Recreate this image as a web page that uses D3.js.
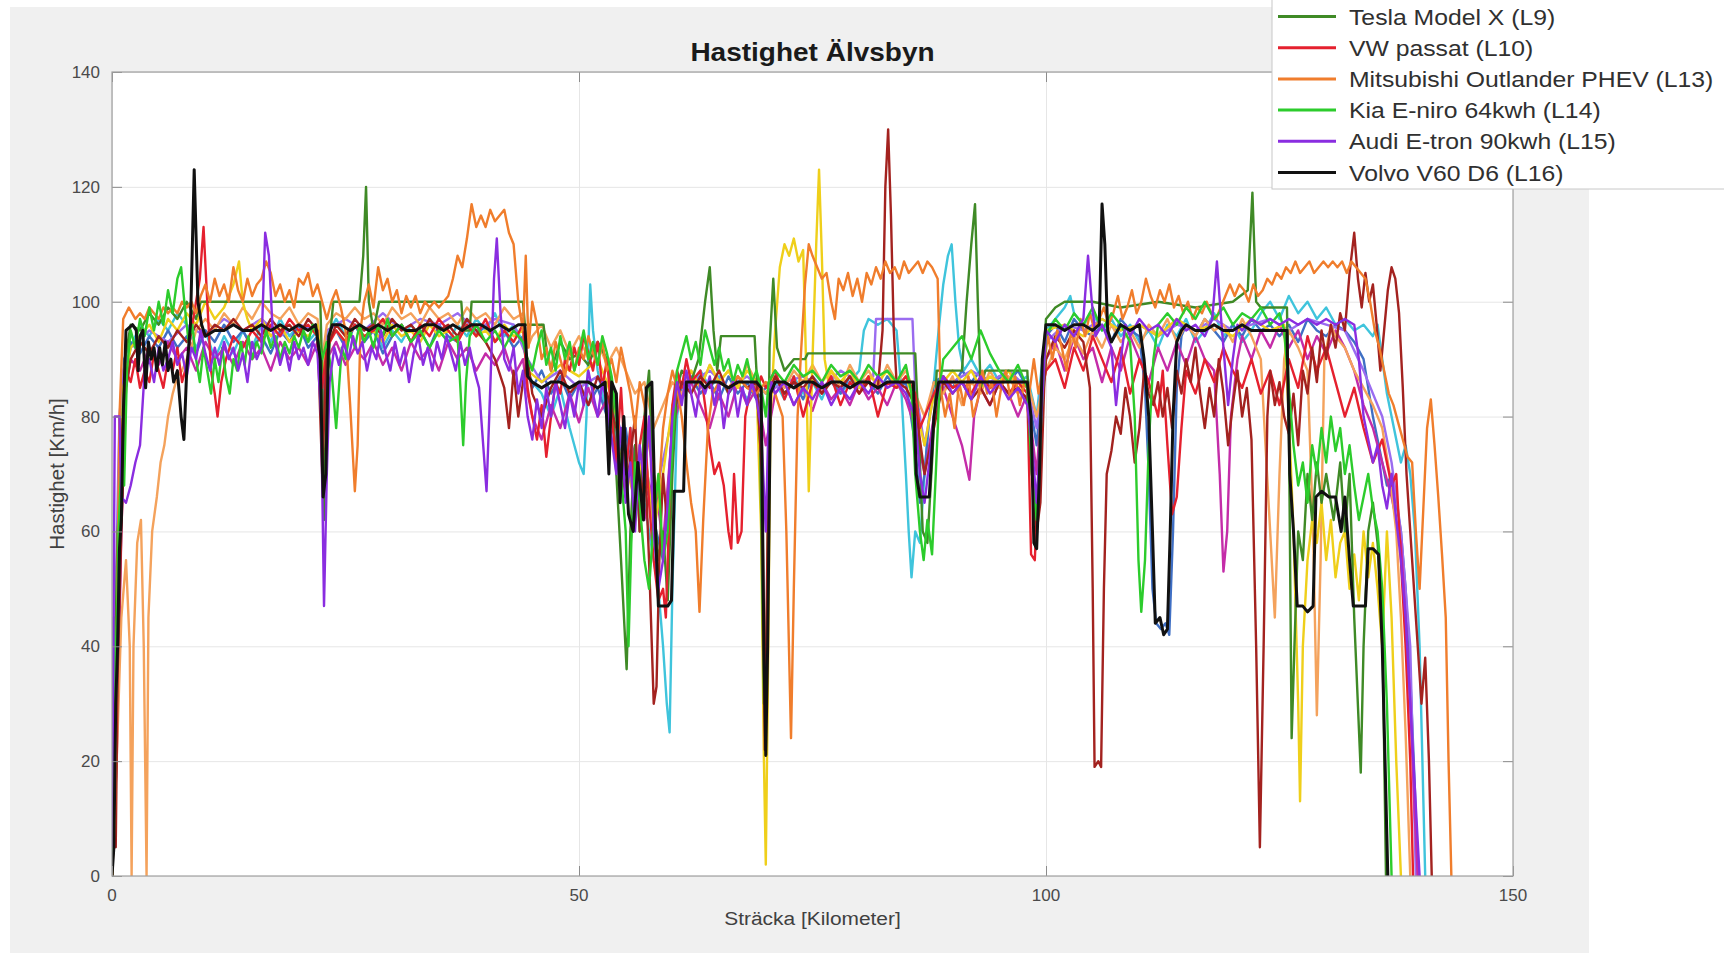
<!DOCTYPE html>
<html>
<head>
<meta charset="utf-8">
<script src="https://cdn.jsdelivr.net/npm/d3@7"></script>
<style>
body { margin: 0; background: #fff; }
svg { display: block; font-family: "Liberation Sans", Arial, Helvetica, sans-serif; }
</style>
</head>
<body>
<svg id="chart" width="1724" height="953"></svg>
<script>
// speed (km/h) against distance (km)
const volvoL16 = [[0,0],[0.2,5],[0.4,30],[0.6,40],[0.8,57],[1.0,62],[1.2,80],[1.5,95],[2.2,96],[2.6,95],[2.8,88],[3.0,94],[3.3,95],[3.6,85],[3.9,93],[4.2,90],[4.5,92],[4.8,88],[5.1,92],[5.4,89],[5.7,93],[6.0,88],[6.3,90],[6.6,86],[7.0,88],[7.4,80],[7.7,76],[8.0,88],[8.4,96],[8.8,123],[9.2,100],[9.6,96],[10,94],[11,95],[12,95],[13,96],[14,95],[15,95],[16,96],[17,95],[18,96],[19,95],[20,96],[21,95],[21.8,96],[22.3,90],[22.6,66],[22.9,70],[23.2,94],[23.6,96],[24.5,96],[25.5,95],[26.5,96],[27.5,95],[28.5,96],[29.5,95],[30.5,96],[31.5,95],[32.5,95],[33.5,96],[34.5,96],[35.5,95],[36.5,96],[37.5,95],[38.5,96],[39.5,96],[40.5,95],[41.5,96],[42.5,95],[43.5,96],[44.2,96],[44.5,87],[45,86],[46,85],[47,86],[48,86],[49,85],[50,86],[51,86],[52,85],[52.8,86],[53.2,70],[53.5,86],[54,84],[54.4,65],[54.8,80],[55.3,63],[55.8,60],[56.3,72],[56.9,62],[57.2,85],[57.8,86],[58.2,60],[58.5,47],[59.5,47],[59.9,48],[60.2,67],[61.2,67],[61.5,86],[62,86],[63,86],[63.5,85],[64,86],[65,86],[66,85],[67,86],[68,86],[69,86],[69.5,85],[69.8,40],[70,21],[70.2,40],[70.5,84],[71,86],[72,86],[73,85],[74,86],[75,86],[76,85],[77,86],[78,86],[79,85],[80,86],[81,86],[82,85],[83,86],[84,86],[85,86],[85.8,86],[86.1,70],[86.5,66],[87.5,66],[88,80],[88.5,86],[89,86],[90,86],[91,86],[92,86],[93,86],[94,86],[95,86],[96,86],[97,86],[98,86],[98.4,80],[98.7,58],[99,57],[99.3,70],[99.6,90],[100,96],[101,96],[102,95],[103,96],[104,96],[105,95],[105.7,96],[106,117],[106.3,110],[106.6,95],[107,93],[108,96],[109,95],[110,96],[110.5,90],[111,80],[111.4,60],[111.7,44],[112.2,45],[112.6,42],[113,43],[113.3,60],[113.6,80],[114,93],[114.5,95],[115,96],[116,95],[117,95],[118,96],[119,95],[120,95],[121,96],[122,95],[123,95],[124,95],[125,95],[125.8,95],[126.1,70],[126.5,60],[126.9,47],[127.5,47],[128,46],[128.6,47],[128.9,66],[129.5,67],[130.3,66],[131,66],[131.6,60],[132,66],[132.5,55],[132.9,47],[133.5,47],[134.2,47],[134.5,57],[135,57],[135.6,56],[136,40],[136.3,20],[136.6,0]];

const teslaL9 = [[0,0],[0.3,35],[0.6,60],[1.0,70],[1.4,90],[2,96],[3,95],[4,98],[5,96],[6,99],[7,97],[8,100],[9,97],[9.5,100],[12,100],[16,100],[20,100],[22.3,100],[22.5,88],[22.7,62],[23,85],[23.4,95],[23.7,100],[26.5,100],[26.9,108],[27.2,120],[27.5,100],[28,95],[28.6,100],[37.4,100],[37.6,95],[38.3,95],[38.5,100],[44,100],[44.2,96],[46.2,96],[46.5,92],[47,88],[48,93],[49,90],[50,91],[51,89],[52,93],[53,90],[53.5,85],[54,70],[54.5,55],[55.1,36],[55.5,60],[56,75],[56.5,60],[57,80],[57.5,88],[58,65],[58.5,55],[59,60],[59.5,48],[60,70],[60.5,85],[61,88],[62,86],[62.8,90],[63.5,100],[64,106],[64.4,95],[64.8,88],[65.2,94],[68.8,94],[69,88],[69.4,75],[69.8,30],[70.1,40],[70.4,92],[70.8,104],[71.2,92],[72,88],[73,90],[74.2,90],[74.5,91],[86,91],[86.3,80],[86.8,60],[87.3,58],[87.8,72],[88.3,88],[91,88],[91.5,100],[92,110],[92.4,117],[92.7,100],[93,85],[93.5,88],[98,88],[98.5,70],[99,60],[99.5,85],[100,97],[101,99],[102,100],[105,100],[108,99],[112,100],[116,99],[120,100],[121.6,102],[122.1,119],[122.5,100],[123,99],[125.8,99],[126,80],[126.3,24],[126.6,40],[127,60],[127.5,55],[128,70],[128.5,62],[129,72],[129.5,65],[130,70],[130.8,62],[131.5,72],[132,60],[132.5,70],[133,45],[133.7,18],[134,40],[134.5,60],[135,65],[135.5,58],[136,45],[136.4,0]];

const vwL10 = [[0,0],[0.3,20],[0.6,40],[1,75],[1.5,88],[2,86],[2.5,90],[3,85],[3.5,88],[4,86],[4.5,91],[5,88],[5.5,85],[6,90],[6.5,88],[7,92],[7.5,86],[8,89],[8.5,95],[9,100],[9.4,104],[9.8,113],[10.2,100],[10.6,88],[11,84],[11.3,80],[11.7,86],[12.2,90],[13,94],[14,92],[15,95],[16,93],[17,96],[18,94],[19,97],[20,95],[21,96],[22,94],[22.5,85],[23,92],[24,95],[25,93],[26,96],[27,94],[28,95],[29,97],[30,94],[31,96],[32,93],[33,96],[34,94],[35,97],[36,95],[37,93],[38,96],[39,94],[40,97],[41,93],[42,95],[43,93],[44,96],[44.5,85],[45,80],[45.5,76],[46,82],[46.5,73],[47,80],[47.5,86],[48,84],[48.5,90],[49,88],[49.5,92],[50,89],[50.5,94],[51,91],[51.5,88],[52,93],[52.5,85],[53,90],[53.5,80],[54,72],[54.5,85],[55,70],[55.5,78],[56,62],[56.5,75],[57,80],[57.5,65],[58,55],[58.5,48],[59,50],[59.3,45],[59.6,60],[60,82],[60.5,88],[61,85],[61.5,90],[62,86],[63,88],[63.5,82],[64,75],[64.5,70],[65,72],[65.5,68],[66,60],[66.3,57],[66.6,70],[67,58],[67.4,60],[67.8,80],[68.5,86],[69,84],[69.5,87],[70,85],[71,88],[72,83],[73,87],[74,80],[75,86],[76,84],[77,87],[78,82],[79,86],[80,84],[81,87],[82,80],[83,86],[84,85],[85,87],[86,84],[86.5,78],[87,80],[88,84],[89,87],[90,85],[91,86],[92,84],[93,87],[94,85],[95,86],[96,84],[97,86],[98,84],[98.4,56],[98.8,55],[99.2,70],[99.6,85],[100,88],[101,90],[102,85],[103,92],[104,88],[105,94],[106,90],[107,86],[108,92],[109,84],[110,90],[111,86],[112,80],[112.5,88],[113,75],[113.5,63],[114,66],[114.5,78],[115,88],[116,84],[117,90],[118,86],[119,92],[120,88],[121,85],[122,90],[123,84],[124,88],[125,82],[126,90],[127,85],[128,94],[129,88],[130,92],[131,86],[132,80],[133,85],[134,78],[135,72],[136,76],[137,68],[137.5,70],[138,55],[138.5,40],[139,20],[139.3,0]];

const mitsuL13 = [[0,0],[0.3,10],[0.5,40],[0.8,80],[1.2,97],[1.8,99],[2.5,97],[3,98],[3.5,97],[4,99],[4.5,98],[5,97],[5.5,99],[6,98],[6.5,99],[7,98],[7.5,100],[8,99],[8.5,100],[9,98],[9.5,101],[10,103],[10.5,100],[11,104],[11.5,101],[12,103],[12.5,100],[13,106],[13.5,102],[14,100],[14.5,104],[15,101],[15.5,103],[16,104],[16.5,107],[17,105],[17.5,101],[18,103],[18.5,100],[19,102],[19.5,99],[20,104],[20.5,103],[21,105],[21.5,101],[22,103],[22.5,100],[23,97],[23.5,100],[24,102],[24.5,99],[25,95],[25.5,82],[26,67],[26.3,75],[26.6,95],[27,100],[27.5,103],[28,99],[28.5,106],[29,102],[29.5,104],[30,100],[30.5,102],[31,98],[31.5,101],[32,99],[32.5,101],[33,98],[33.5,100],[34,99],[34.5,100],[35,99],[35.5,100],[36,101],[36.5,104],[37,108],[37.5,106],[38,111],[38.5,117],[39,113],[39.5,115],[40,113],[40.5,116],[41,114],[41.5,115],[42,116],[42.5,112],[43,110],[43.5,100],[44,95],[44.3,108],[44.6,92],[45,100],[45.5,96],[46,90],[46.5,92],[47,88],[47.5,93],[48,90],[48.5,87],[49,92],[49.5,88],[50,92],[50.5,90],[51,94],[51.5,91],[52,89],[52.5,93],[53,88],[53.5,90],[54,86],[54.5,92],[55,88],[55.5,84],[56,78],[56.5,86],[57,82],[57.5,75],[58,70],[58.5,66],[59,78],[59.5,84],[60,88],[60.5,85],[61,80],[61.5,72],[62,65],[62.5,60],[62.9,46],[63.3,62],[63.8,78],[64.3,84],[65,86],[66,85],[67,87],[68,85],[69,84],[70,86],[71,84],[71.8,80],[72.2,60],[72.7,24],[73,50],[73.4,80],[73.8,92],[74.2,103],[74.6,110],[75,108],[75.5,106],[76,104],[76.5,105],[77,100],[77.4,97],[77.8,104],[78.3,102],[78.8,105],[79.3,101],[79.8,104],[80.3,100],[80.8,105],[81.3,103],[81.8,106],[82.3,104],[82.8,107],[83.3,105],[83.8,106],[84.3,104],[84.8,107],[85.3,105],[85.8,106],[86.3,107],[86.8,105],[87.3,107],[87.8,106],[88.4,104],[88.7,85],[89.2,80],[89.7,84],[90.2,78],[90.7,86],[91.2,82],[91.7,87],[92.2,80],[92.7,83],[93.2,88],[93.7,84],[94.2,86],[94.7,80],[95.2,85],[95.7,88],[96.2,83],[96.7,87],[97.2,82],[97.7,86],[98.2,84],[98.7,90],[99.2,84],[99.7,88],[100.2,94],[100.7,90],[101.2,95],[101.7,92],[102.2,88],[102.7,95],[103.2,92],[103.7,97],[104.2,94],[104.7,98],[105.2,95],[105.7,97],[106.2,99],[106.7,96],[107.2,98],[107.7,101],[108.2,97],[108.7,99],[109.2,102],[109.7,98],[110.2,100],[110.7,104],[111.2,101],[111.7,99],[112.2,102],[112.7,100],[113.2,103],[113.7,99],[114.2,101],[114.7,98],[115.2,100],[115.7,97],[116.2,99],[116.7,98],[117.2,100],[117.7,98],[118.2,97],[118.7,99],[119.2,101],[119.7,103],[120.2,101],[120.7,103],[121.2,102],[121.7,100],[122.2,103],[122.7,101],[123.2,102],[123.7,104],[124.2,103],[124.7,105],[125.2,104],[125.7,106],[126.2,105],[126.7,107],[127.2,105],[127.7,106],[128.2,107],[128.7,105],[129.2,106],[129.7,107],[130.2,106],[130.7,107],[131.2,106],[131.7,107],[132.2,105],[132.7,107],[133.2,106],[133.7,105],[134.2,104],[134.7,100],[135.2,95],[135.7,92],[136.2,88],[136.7,84],[137.2,82],[137.7,79],[138.2,76],[138.7,73],[139.2,72],[139.6,60],[140,50],[140.4,64],[140.8,78],[141.2,83],[141.6,75],[142,66],[142.4,56],[142.8,45],[143.1,20],[143.4,0]];

const kiaL14 = [[0,0],[0.2,45],[0.4,30],[0.7,60],[1,72],[1.3,68],[1.6,88],[2,95],[2.5,92],[3,97],[3.5,94],[4,99],[4.5,95],[5,100],[5.5,96],[6,102],[6.5,98],[7,104],[7.4,106],[7.8,99],[8.2,93],[8.6,96],[9,90],[9.4,86],[9.8,92],[10.2,88],[10.6,84],[11,90],[11.4,86],[11.8,92],[12.2,87],[12.6,84],[13,90],[13.4,88],[13.8,93],[14.2,89],[14.6,94],[15,90],[15.5,93],[16,91],[16.5,95],[17,92],[17.5,94],[18,90],[18.5,93],[19,91],[19.5,94],[20,92],[20.5,95],[21,93],[21.5,96],[22,94],[22.5,90],[23,93],[23.5,88],[24,78],[24.3,85],[24.6,92],[25,90],[25.5,95],[26,92],[26.5,96],[27,93],[27.5,95],[28,92],[28.5,96],[29,94],[29.5,97],[30,94],[31,96],[32,93],[33,95],[34,92],[35,95],[36,93],[37,94],[37.3,85],[37.6,75],[37.9,86],[38.3,94],[39,96],[40,93],[41,95],[42,92],[43,95],[44,93],[44.5,90],[45,88],[45.5,92],[46,95],[46.5,89],[47,92],[47.5,88],[48,94],[48.5,90],[49,93],[49.5,88],[50,91],[50.5,95],[51,90],[51.5,93],[52,89],[52.5,94],[53,91],[53.5,87],[54,80],[54.5,70],[55,60],[55.3,40],[55.6,58],[56,72],[56.5,65],[57,55],[57.5,50],[58,62],[58.5,70],[59,55],[59.5,60],[60,75],[60.5,88],[61,91],[61.5,94],[62,90],[62.5,93],[63,89],[63.5,95],[64,92],[64.5,89],[65,92],[65.5,88],[66,90],[66.5,86],[67,89],[67.5,87],[68,90],[68.5,86],[69,88],[69.5,85],[70,80],[70.3,86],[71,88],[72,86],[73,89],[74,87],[75,88],[76,86],[77,89],[78,87],[79,88],[80,86],[81,89],[82,87],[83,88],[84,86],[85,89],[85.6,84],[86,70],[86.5,60],[86.9,55],[87.3,62],[87.8,56],[88.2,70],[88.6,85],[89,90],[90,92],[91,94],[92,90],[93,95],[94,91],[95,88],[96,86],[97,89],[98,85],[98.5,70],[99,62],[99.5,80],[100,94],[101,97],[102,95],[103,98],[104,96],[105,99],[106,95],[107,98],[108,96],[109,93],[109.5,80],[109.9,55],[110.2,46],[110.6,55],[111,75],[111.5,90],[112,96],[113,98],[114,96],[115,99],[116,97],[117,100],[118,97],[119,99],[120,96],[121,98],[122,97],[123,99],[124,96],[125,98],[125.5,95],[126,85],[126.5,75],[127,68],[127.5,72],[128,65],[128.5,75],[129,70],[129.5,78],[130,72],[130.5,80],[131,74],[131.5,78],[132,70],[132.5,75],[133,68],[133.5,62],[134,66],[134.5,70],[135,64],[135.5,60],[136,50],[136.5,30],[137,0]];

const audiL15 = [[0,5],[0.15,40],[0.3,80],[0.8,80],[1,66],[1.5,65],[2,68],[2.5,72],[3,75],[3.5,88],[4,90],[4.5,86],[5,92],[5.5,88],[6,90],[6.5,93],[7,89],[7.5,91],[8,87],[8.5,92],[9,90],[9.5,95],[10,91],[10.5,88],[11,92],[11.5,89],[12,93],[12.5,90],[13,92],[13.5,88],[14,91],[14.5,86],[15,93],[15.5,90],[16,92],[16.4,112],[16.8,108],[17.2,95],[17.6,92],[18,89],[18.5,92],[19,88],[19.5,93],[20,90],[20.5,92],[21,89],[21.5,93],[22,91],[22.4,80],[22.7,47],[23,70],[23.3,86],[23.8,92],[24.3,89],[24.8,93],[25.3,90],[25.8,94],[26.3,91],[26.8,93],[27.3,88],[27.8,92],[28.3,90],[28.8,95],[29.3,91],[29.8,88],[30.3,93],[30.8,89],[31.3,92],[31.8,86],[32.3,91],[32.8,94],[33.3,89],[33.8,92],[34.3,88],[34.8,93],[35.3,90],[35.8,94],[36.3,91],[36.8,88],[37.3,93],[37.8,89],[38.3,92],[38.8,88],[39.3,85],[39.7,76],[40.1,67],[40.5,85],[40.9,104],[41.2,111],[41.6,98],[42,90],[42.5,88],[43,92],[43.5,84],[44,88],[44.5,80],[45,76],[45.5,83],[46,78],[46.5,85],[47,80],[47.5,86],[48,82],[48.5,78],[49,84],[49.5,80],[50,86],[50.5,82],[51,88],[51.5,84],[52,80],[52.5,86],[53,82],[53.5,76],[54,70],[54.5,78],[55,65],[55.5,72],[56,60],[56.5,75],[57,68],[57.5,80],[58,60],[58.5,50],[59,55],[59.5,65],[60,80],[60.5,86],[61,82],[61.5,88],[62,84],[62.5,80],[63,86],[63.5,84],[64,87],[64.5,82],[65,86],[65.5,78],[66,84],[66.5,86],[67,80],[67.5,85],[68,82],[68.5,86],[69,83],[69.5,78],[70,60],[70.3,80],[70.6,86],[71,84],[72,86],[73,82],[74,85],[75,83],[76,86],[77,82],[78,85],[79,83],[80,86],[81,84],[82,87],[83,85],[84,86],[85,84],[86,80],[86.5,70],[87,65],[87.5,72],[88,80],[88.5,85],[89,87],[90,84],[91,86],[92,83],[93,87],[94,84],[95,86],[96,83],[97,85],[98,82],[98.5,75],[99,65],[99.5,80],[100,95],[101,93],[102,96],[103,94],[104,97],[104.5,108],[104.9,100],[105.3,94],[106,96],[107,92],[107.5,82],[108,90],[108.5,96],[109,94],[110,97],[111,95],[112,96],[113,94],[114,97],[115,95],[116,96],[117,94],[117.8,97],[118.3,107],[118.7,98],[119,92],[119.5,82],[120,90],[120.5,96],[121,95],[122,97],[123,96],[124,97],[125,96],[126,97],[127,96],[128,97],[129,96],[130,97],[131,96],[132,97],[133,96],[133.5,90],[134,80],[134.5,76],[135,72],[135.5,75],[136,68],[136.5,64],[137,70],[137.5,62],[138,55],[138.5,45],[139,30],[139.5,15],[140,0]];

// the other runs, whose legend rows sit above the visible part of the legend
const runCyan = [[0,0],[0.3,25],[0.6,55],[1,75],[1.5,88],[2,92],[3,96],[4,94],[5,97],[6,95],[7,98],[8,96],[9,92],[10,95],[11,90],[12,94],[13,91],[14,95],[15,92],[16,96],[17,93],[18,97],[19,94],[20,96],[21,93],[22,95],[22.5,88],[23,94],[24,97],[25,94],[26,96],[27,93],[28,96],[29,92],[30,95],[31,93],[32,96],[33,94],[34,97],[35,95],[36,93],[37,96],[38,94],[39,97],[40,95],[41,98],[42,94],[43,96],[44,93],[44.5,88],[45,86],[46,84],[47,80],[48,85],[49,78],[50,72],[50.5,70],[50.8,80],[51.2,103],[51.5,95],[52,88],[52.5,84],[53,80],[53.5,85],[54,75],[55,70],[55.5,78],[56,68],[56.5,72],[57,65],[57.5,60],[58,55],[58.5,50],[59,40],[59.4,30],[59.7,25],[60,50],[60.5,80],[61,86],[62,84],[63,88],[64,85],[65,87],[66,84],[67,86],[68,83],[69,86],[70,84],[71,86],[72,83],[73,87],[74,84],[75,86],[76,83],[77,87],[78,84],[79,86],[80,88],[80.5,95],[81,97],[82,96],[83,97],[84,95],[84.5,85],[85,70],[85.3,60],[85.6,52],[86,60],[86.5,58],[87,70],[87.5,80],[88,86],[88.5,95],[89,103],[89.5,108],[89.9,110],[90.3,100],[90.7,92],[91.2,88],[92,90],[93,87],[94,89],[95,86],[96,88],[97,86],[98,87],[99,80],[99.5,88],[100,95],[101,97],[102,99],[102.6,101],[103,98],[104,96],[105,98],[106,95],[107,97],[108,94],[109,96],[110,93],[111,95],[112,92],[113,96],[114,94],[115,97],[116,93],[117,95],[118,98],[119,94],[120,96],[121,93],[122,95],[123,98],[124,100],[125,97],[126,101],[127,98],[128,100],[129,97],[130,99],[131,96],[132,97],[133,95],[134,96],[135,94],[135.5,96],[136,90],[136.5,84],[137,80],[137.5,76],[138,72],[138.5,75],[139,70],[139.5,60],[140,40],[140.3,20],[140.6,0]];

const runBlue = [[0,0],[0.4,30],[0.8,70],[1.3,90],[2,93],[3,91],[4,94],[5,92],[6,95],[7,92],[8,94],[9,91],[10,95],[11,93],[12,96],[13,93],[14,95],[15,92],[16,94],[17,91],[18,95],[19,93],[20,96],[21,92],[22,94],[22.5,85],[23,93],[24,95],[25,92],[26,96],[27,93],[28,95],[29,91],[30,94],[31,96],[32,93],[33,95],[34,92],[35,96],[36,94],[37,93],[38,97],[39,94],[40,96],[41,93],[42,95],[43,92],[44,94],[44.5,88],[45,85],[46,88],[47,84],[48,87],[49,83],[50,86],[51,82],[52,85],[53,80],[54,72],[55,78],[56,66],[57,74],[58,62],[59,55],[60,78],[61,85],[62,87],[63,84],[64,86],[65,83],[66,87],[67,84],[68,86],[69,83],[70,85],[71,87],[72,84],[73,86],[74,83],[75,87],[76,85],[77,86],[78,84],[79,87],[80,85],[81,86],[82,84],[83,87],[84,85],[85,86],[86,75],[86.5,65],[87,70],[87.5,80],[88,86],[89,87],[90,85],[91,88],[92,86],[93,88],[94,85],[95,87],[96,86],[97,88],[98,85],[99,75],[99.5,85],[100,94],[101,96],[102,93],[103,97],[104,95],[105,94],[106,96],[107,93],[108,97],[109,95],[110,94],[110.6,85],[111,70],[111.4,50],[111.8,44],[112.3,43],[112.8,44],[113.2,42],[113.6,60],[114,85],[114.5,94],[115,96],[116,94],[117,97],[118,95],[119,93],[120,96],[121,94],[122,97],[123,95],[124,96],[125,94],[126,96],[127,93],[128,97],[129,95],[130,94],[131,96],[132,95],[133,93],[134,90],[134.5,85],[135,80],[135.5,76],[136,72],[136.5,68],[137,70],[137.5,65],[138,60],[138.5,50],[139,35],[139.5,15],[139.8,0]];

const runLavender = [[0,0],[0.4,50],[0.8,80],[1.2,88],[2,92],[4,95],[6,93],[8,96],[10,94],[12,97],[14,95],[16,97],[18,94],[20,96],[22,95],[22.5,88],[23,95],[25,97],[27,95],[29,98],[31,95],[33,97],[35,96],[37,98],[39,95],[41,97],[43,96],[44.5,90],[46,86],[48,88],[50,85],[52,87],[54,80],[56,70],[58,65],[60,80],[62,86],[64,88],[66,85],[68,87],[70,84],[72,86],[74,87],[76,85],[78,88],[80,86],[81.5,87],[81.8,97],[85.7,97],[86,85],[87,75],[88,84],[90,86],[92,88],[94,86],[96,88],[98,85],[99,78],[100,93],[102,96],[104,95],[106,97],[108,95],[110,96],[112,94],[114,96],[116,95],[118,97],[120,95],[122,96],[124,97],[126,95],[128,97],[130,96],[132,95],[134,88],[136,80],[137,72],[138,60],[139,40],[139.6,0]];

const runMagenta = [[0,0],[0.5,20],[1,60],[1.5,85],[2,90],[3,88],[4,92],[5,89],[6,93],[7,90],[8,92],[9,88],[10,93],[11,90],[12,92],[13,89],[14,93],[15,90],[16,92],[17,88],[18,93],[19,90],[20,92],[21,89],[22,93],[22.5,80],[23,90],[24,93],[25,89],[26,92],[27,90],[28,93],[29,89],[30,92],[31,88],[32,93],[33,90],[34,92],[35,88],[36,93],[37,90],[38,92],[39,88],[40,91],[41,89],[42,92],[43,87],[44,90],[44.5,84],[45,80],[46,76],[47,82],[48,78],[49,84],[50,79],[51,85],[52,80],[53,83],[54,75],[55,68],[56,75],[57,62],[58,70],[59,58],[60,78],[61,84],[62,86],[63,82],[64,78],[65,84],[66,80],[67,86],[68,82],[69,85],[70,75],[71,84],[72,86],[73,82],[74,85],[75,81],[76,86],[77,83],[78,85],[79,82],[80,86],[81,83],[82,85],[83,82],[84,86],[85,83],[86,78],[87,70],[88,80],[89,85],[90,80],[91,75],[91.8,69],[92.3,80],[93,85],[94,82],[95,86],[96,84],[97,80],[98,84],[99,70],[99.5,82],[100,90],[101,93],[102,88],[103,94],[104,90],[105,92],[106,86],[107,92],[108,88],[109,94],[110,90],[111,86],[112,92],[113,88],[114,93],[115,89],[116,94],[117,90],[118,88],[118.6,70],[119,53],[119.4,60],[119.8,80],[120.5,90],[121,94],[122,90],[123,95],[124,92],[125,96],[126,92],[127,95],[128,90],[129,94],[130,91],[131,95],[132,92],[133,88],[134,82],[135,78],[136,72],[137,66],[138,58],[138.5,45],[139,30],[139.5,10],[139.8,0]];

const runSalmon = [[0,0],[0.5,20],[1,45],[1.5,55],[1.9,40],[2.1,0],[2.3,40],[2.7,58],[3.1,62],[3.4,40],[3.7,0],[3.9,45],[4.3,60],[4.8,66],[5.2,72],[5.6,75],[6,80],[6.5,84],[7,87],[7.5,88],[8,90],[8.5,92],[9,95],[10,97],[11,95],[12,98],[13,96],[14,99],[15,97],[16,100],[17,98],[18,97],[19,99],[20,96],[21,98],[22,97],[22.5,90],[23,96],[24,98],[25,97],[26,99],[27,97],[28,98],[29,96],[30,99],[31,97],[32,98],[33,96],[34,99],[35,97],[36,98],[37,96],[38,99],[39,97],[40,98],[41,96],[42,99],[43,97],[44,98],[44.5,92],[45,94],[46,96],[47,92],[48,95],[49,91],[50,94],[51,90],[52,93],[53,89],[54,92],[55,88],[56,84],[57,86],[58,78],[59,82],[60,86],[61,84],[62,88],[63,85],[64,89],[65,86],[66,88],[67,85],[68,89],[69,86],[70,84],[71,87],[72,85],[73,88],[74,86],[75,89],[76,86],[77,88],[78,85],[79,89],[80,86],[81,88],[82,85],[83,89],[84,86],[85,88],[86,84],[87,80],[88,86],[89,84],[90,87],[91,82],[92,86],[93,84],[94,88],[95,85],[96,87],[97,84],[98,86],[99,80],[100,88],[101,92],[102,90],[103,94],[104,91],[105,95],[106,92],[107,96],[108,93],[109,95],[110,92],[111,96],[112,94],[113,97],[114,93],[115,96],[116,94],[117,97],[118,95],[119,96],[120,93],[121,97],[122,94],[123,90],[123.5,75],[124,60],[124.5,45],[125,70],[125.5,90],[126,95],[127,92],[128,88],[128.6,60],[129,28],[129.4,55],[129.8,90],[130.5,96],[131,94],[132,92],[133,88],[134,85],[135,82],[136,78],[136.8,70],[137.5,60],[138,45],[138.5,25],[139,0]];

const runYellow = [[0,0],[0.4,30],[0.8,65],[1.2,85],[2,92],[3,94],[4,96],[5,93],[6,97],[7,95],[8,98],[9,96],[10,100],[11,97],[12,99],[13,103],[13.6,107],[14,100],[14.5,97],[15,95],[16,97],[17,94],[18,96],[19,93],[20,95],[21,94],[22,96],[22.5,86],[23,93],[24,95],[25,93],[26,96],[27,94],[28,95],[29,93],[30,96],[31,94],[32,95],[33,93],[34,96],[35,94],[36,95],[37,93],[38,96],[39,94],[40,95],[41,93],[42,96],[43,94],[44,95],[44.5,88],[46,86],[48,89],[50,87],[52,90],[53,86],[54,80],[55,72],[56,65],[57,75],[58,60],[59,70],[60,82],[61,86],[62,88],[63,85],[64,89],[65,86],[66,88],[67,85],[68,88],[69,86],[69.5,60],[69.8,20],[70,2],[70.2,30],[70.5,80],[71,95],[71.5,106],[72,110],[72.5,108],[73,111],[73.5,107],[74,109],[74.3,90],[74.6,67],[75,90],[75.4,110],[75.7,123],[76,108],[76.3,90],[76.7,86],[77,88],[78,86],[79,88],[80,85],[81,87],[82,86],[83,88],[84,85],[85,87],[86,82],[87,75],[88,84],[89,86],[90,88],[91,86],[92,88],[93,85],[94,87],[95,86],[96,88],[97,85],[98,86],[99,62],[99.5,80],[100,95],[102,96],[104,94],[106,97],[108,95],[110,96],[112,94],[114,97],[116,95],[118,96],[120,94],[122,97],[124,95],[125.5,96],[126,80],[126.5,60],[127,30],[127.2,13],[127.5,40],[128,55],[128.5,62],[129,58],[129.5,65],[130,55],[130.5,62],[131,52],[131.5,58],[132,60],[132.5,50],[133,56],[133.5,48],[134,60],[134.5,52],[135,58],[135.5,50],[136,40],[136.5,60],[137,45],[137.5,20],[138,0]];

const runMaroon = [[0,0],[0.2,15],[0.4,5],[0.6,35],[1,60],[1.5,85],[2,90],[3,93],[4,91],[5,94],[6,92],[7,95],[8,93],[9,96],[10,94],[11,96],[12,95],[13,97],[14,95],[15,96],[16,94],[17,97],[18,95],[19,96],[20,94],[21,97],[22,95],[22.5,70],[23,92],[24,96],[25,94],[26,97],[27,95],[28,96],[29,94],[30,97],[31,95],[32,96],[33,94],[34,97],[35,95],[36,96],[37,94],[38,97],[39,95],[40,93],[41,90],[42,85],[42.5,78],[43,88],[43.5,80],[44,86],[44.5,90],[45,84],[46,80],[47,85],[48,88],[49,84],[50,86],[51,82],[52,87],[53,84],[54,78],[55,66],[56,80],[56.5,60],[57,75],[57.5,55],[58,30],[58.3,33],[58.6,55],[59,70],[59.5,60],[60,80],[61,86],[62,84],[63,87],[64,85],[65,88],[66,84],[67,87],[68,85],[69,86],[69.6,70],[69.9,22],[70.2,60],[70.5,85],[71,87],[72,84],[73,86],[74,85],[75,87],[76,84],[77,86],[78,85],[79,87],[80,84],[81,86],[82,85],[82.5,95],[82.8,120],[83.1,130],[83.4,115],[83.7,95],[84,86],[85,85],[86,82],[87,70],[88,78],[89,86],[90,84],[91,86],[92,83],[93,85],[94,82],[95,86],[96,84],[97,85],[98,83],[98.5,70],[99,60],[99.4,65],[99.8,85],[100,90],[101,94],[102,92],[103,95],[104,93],[104.7,85],[105,50],[105.2,19],[105.6,20],[105.9,19],[106.2,50],[106.5,70],[107,74],[107.5,80],[108,77],[108.5,85],[109,80],[109.5,72],[110,78],[110.5,88],[111,84],[111.5,82],[112,86],[112.5,80],[113,85],[113.5,78],[114,88],[114.5,84],[115,90],[115.5,86],[116,92],[116.5,84],[117,78],[117.5,85],[118,80],[118.5,90],[119,84],[119.5,75],[120,82],[120.5,88],[121,80],[121.5,85],[122,76],[122.5,40],[122.9,5],[123.3,40],[123.7,80],[124,88],[124.5,82],[125,86],[125.5,80],[126,77],[126.5,84],[127,75],[127.5,88],[128,84],[128.5,92],[129,86],[129.5,95],[130,90],[130.5,96],[131,92],[131.5,98],[132,95],[132.5,105],[133,112],[133.4,104],[133.8,99],[134.2,105],[134.6,100],[135,103],[135.4,96],[135.8,88],[136.2,95],[136.6,102],[137,106],[137.4,104],[137.8,98],[138.2,85],[138.6,70],[139,60],[139.4,50],[139.8,40],[140.2,30],[140.6,38],[141,20],[141.3,0]];

const legendNames = ['Tesla Model X (L9)', 'VW passat (L10)', 'Mitsubishi Outlander PHEV (L13)', 'Kia E-niro 64kwh (L14)', 'Audi E-tron 90kwh (L15)', 'Volvo V60 D6 (L16)'];
const xTicks = [0, 50, 100, 150];
const yTicks = [0, 20, 40, 60, 80, 100, 120, 140];

// drawing order: later lines lie on top
const series = [
    { data: runCyan, color: '#3fc4dc', width: 2.4 },
    { data: runBlue, color: '#3f6fc4', width: 2.4 },
    { data: runLavender, color: '#9a6cf0', width: 2.4 },
    { data: runMagenta, color: '#c42ca8', width: 2.4 },
    { data: runSalmon, color: '#f4a25c', width: 2.4 },
    { data: runYellow, color: '#efcf1a', width: 2.4 },
    { data: teslaL9, color: '#3f8a26', width: 2.4, legend: 0 },
    { data: vwL10, color: '#e5202e', width: 2.4, legend: 1 },
    { data: runMaroon, color: '#a3221f', width: 2.4 },
    { data: mitsuL13, color: '#f07d2c', width: 2.4, legend: 2 },
    { data: kiaL14, color: '#2ccc2c', width: 2.4, legend: 3 },
    { data: audiL15, color: '#8a2de0', width: 2.4, legend: 4 },
    { data: volvoL16, color: '#111111', width: 3, legend: 5 }
];

const svg = d3.select('#chart');
const margin = { left: 112, top: 72, right: 211, bottom: 77 };
const innerWidth = 1724 - margin.left - margin.right;
const innerHeight = 953 - margin.top - margin.bottom;

svg.append('rect')
    .attr('x', 10).attr('y', 7)
    .attr('width', 1579).attr('height', 946)
    .attr('fill', '#f0f0f0');

const g = svg.append('g')
    .attr('transform', `translate(${margin.left},${margin.top})`);

const xScale = d3.scaleLinear().domain([0, 150]).range([0, innerWidth]);
const yScale = d3.scaleLinear().domain([0, 140]).range([innerHeight, 0]);

g.append('rect')
    .attr('width', innerWidth).attr('height', innerHeight)
    .attr('fill', '#fff');

// grid
g.append('g').attr('class', 'grid')
    .attr('transform', `translate(0,${innerHeight})`)
    .call(d3.axisBottom(xScale).tickValues(xTicks).tickSize(-innerHeight).tickFormat(''));
g.append('g').attr('class', 'grid')
    .call(d3.axisLeft(yScale).tickValues(yTicks).tickSize(-innerWidth).tickFormat(''));
g.selectAll('.grid .domain').remove();
g.selectAll('.grid line').attr('stroke', '#e6e6e6').attr('stroke-width', 1);

// lines
svg.append('defs').append('clipPath').attr('id', 'plotClip')
    .append('rect').attr('width', innerWidth).attr('height', innerHeight);

const line = d3.line()
    .x(d => xScale(d[0]))
    .y(d => yScale(d[1]));

g.append('g').attr('clip-path', 'url(#plotClip)')
    .selectAll('path').data(series).enter().append('path')
    .attr('d', d => line(d.data))
    .attr('fill', 'none')
    .attr('stroke', d => d.color)
    .attr('stroke-width', d => d.width)
    .attr('stroke-linejoin', 'round');

// inward ticks on all four sides
g.append('g').attr('class', 'axis')
    .attr('transform', `translate(0,${innerHeight})`)
    .call(d3.axisBottom(xScale).tickValues(xTicks).tickSize(-10).tickFormat(''));
g.append('g').attr('class', 'axis')
    .call(d3.axisLeft(yScale).tickValues(yTicks).tickSize(-10).tickFormat(''));
g.append('g').attr('class', 'axis')
    .call(d3.axisTop(xScale).tickValues(xTicks).tickSize(-10).tickFormat(''));
g.append('g').attr('class', 'axis')
    .attr('transform', `translate(${innerWidth},0)`)
    .call(d3.axisRight(yScale).tickValues(yTicks).tickSize(-10).tickFormat(''));
g.selectAll('.axis .domain').remove();
g.selectAll('.axis line').attr('stroke', '#8c8c8c');
g.selectAll('.axis text').remove();

// tick labels
g.selectAll('.xlab').data(xTicks).enter().append('text')
    .attr('class', 'xlab')
    .attr('x', d => xScale(d))
    .attr('y', innerHeight + 25)
    .attr('text-anchor', 'middle')
    .attr('fill', '#4a4a4a')
    .style('font-size', '17px')
    .text(d => d);

g.selectAll('.ylab').data(yTicks).enter().append('text')
    .attr('class', 'ylab')
    .attr('x', -12)
    .attr('y', d => yScale(d) + 6)
    .attr('text-anchor', 'end')
    .attr('fill', '#4a4a4a')
    .style('font-size', '17px')
    .text(d => d);

g.append('rect')
    .attr('width', innerWidth).attr('height', innerHeight)
    .attr('fill', 'none')
    .attr('stroke', '#a0a0a0')
    .attr('stroke-width', 1.2);

// labels
svg.append('text')
    .attr('transform', `translate(${margin.left + innerWidth / 2},61) scale(1.12,1)`)
    .attr('text-anchor', 'middle')
    .attr('fill', '#1a1a1a')
    .style('font-size', '25px')
    .style('font-weight', 'bold')
    .text('Hastighet Älvsbyn');

svg.append('text')
    .attr('transform', `translate(${margin.left + innerWidth / 2},925) scale(1.1,1)`)
    .attr('text-anchor', 'middle')
    .attr('fill', '#404040')
    .style('font-size', '19px')
    .text('Sträcka [Kilometer]');

svg.append('text')
    .attr('transform', `translate(64,${margin.top + innerHeight / 2}) rotate(-90)`)
    .attr('text-anchor', 'middle')
    .attr('fill', '#404040')
    .style('font-size', '20.5px')
    .text('Hastighet [Km/h]');

// legend (its upper rows are cut off by the top of the figure)
const legendG = svg.append('g').attr('transform', 'translate(1272,0)');
legendG.append('rect')
    .attr('x', 0).attr('y', -20)
    .attr('width', 470).attr('height', 209)
    .attr('fill', '#fff')
    .attr('stroke', '#c8c8c8');

const legendRows = series.filter(d => d.legend !== undefined)
    .sort((a, b) => a.legend - b.legend);

const rowG = legendG.selectAll('.row').data(legendRows).enter().append('g')
    .attr('class', 'row')
    .attr('transform', d => `translate(0,${16.5 + d.legend * 31.2})`);

rowG.append('line')
    .attr('x1', 6).attr('x2', 64)
    .attr('stroke', d => d.color)
    .attr('stroke-width', 3);

rowG.append('text')
    .attr('transform', 'translate(77,8) scale(1.1,1)')
    .attr('fill', '#303030')
    .style('font-size', '22.5px')
    .text(d => legendNames[d.legend]);
</script>
</body>
</html>
